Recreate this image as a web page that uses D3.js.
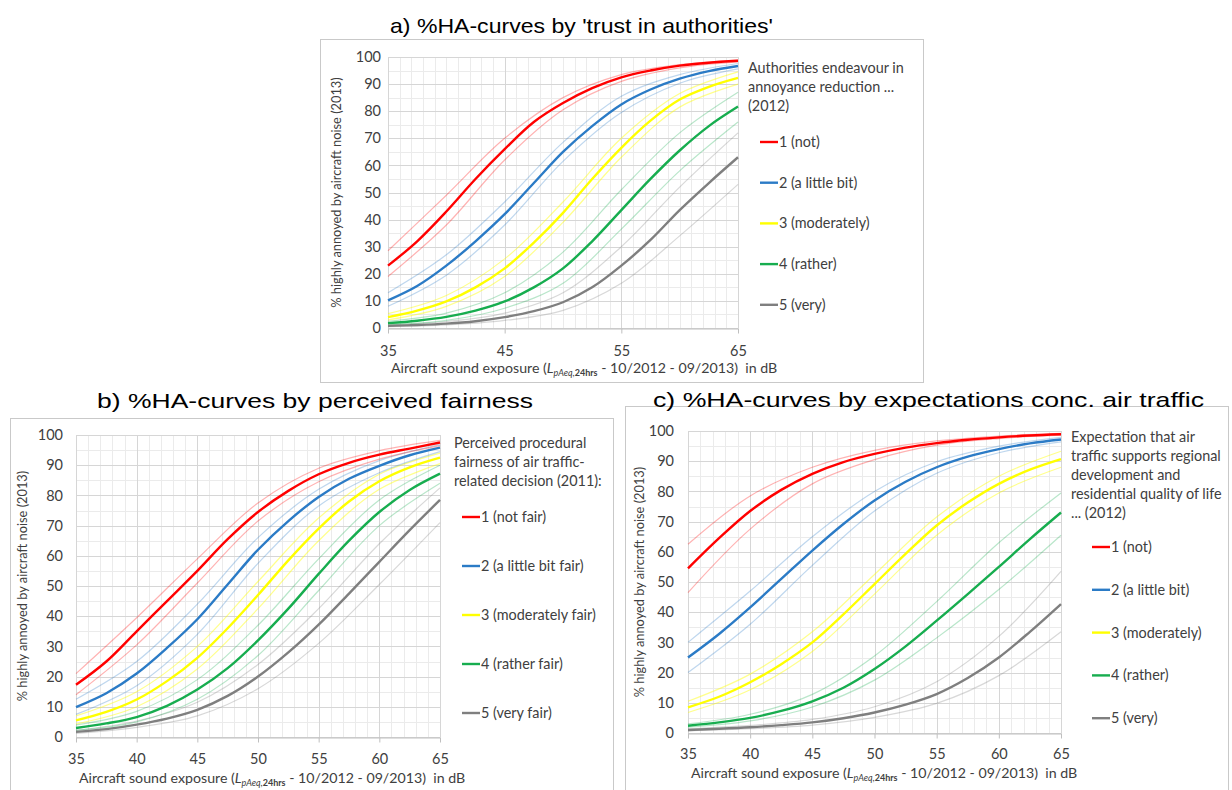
<!DOCTYPE html>
<html>
<head>
<meta charset="utf-8">
<script src="https://cdn.jsdelivr.net/npm/d3@7"></script>
<style>
  body { margin: 0; background: #fff; }
  text { font-family: Lato, "Noto Sans", sans-serif; }
</style>
</head>
<body>
<svg id="chart" width="1232" height="790"></svg>
<script>
// x positions (dB) of the read-off values
const dbMain = [35, 37.5, 40, 42.5, 45, 47.5, 50, 52.5, 55, 57.5, 60, 62.5, 65];
const dbBand = [35, 40, 45, 50, 55, 60, 65];
const yTicks = [0, 10, 20, 30, 40, 50, 60, 70, 80, 90, 100];
const aXTicks = [35, 45, 55, 65];
const bcXTicks = [35, 40, 45, 50, 55, 60, 65];

// a) trust in authorities
const aTitle = "a) %HA-curves by 'trust in authorities'";
const aLegendTitle = ['Authorities endeavour in', 'annoyance reduction ...', '(2012)'];
const aLabels = ['1 (not)', '2 (a little bit)', '3 (moderately)', '4 (rather)', '5 (very)'];
const aMain = [
  [23, 32, 43, 55, 66, 76, 83, 88.5, 92.5, 95, 96.8, 97.9, 98.6],
  [10.2, 15.5, 23, 32, 42, 53.5, 65, 74.5, 82.5, 88, 92, 94.8, 96.7],
  [4, 6.4, 9.8, 15, 22, 31.5, 42.5, 55, 66.5, 76.5, 84.3, 89, 92.3],
  [1.8, 2.7, 4.1, 6.4, 9.8, 15, 22, 32, 43.5, 55, 65.5, 74.5, 81.7],
  [0.8, 1.1, 1.6, 2.5, 4, 6.2, 9.5, 15, 23, 32.5, 43.5, 53.5, 63]
];
const aHi = [
  [28.5, 49, 70, 85, 93.5, 97.2, 98.9],
  [13, 27, 46.5, 68.5, 85.5, 93.5, 97.6],
  [5.3, 12, 25.5, 46.5, 70, 86.5, 94.5],
  [2.5, 5.5, 13, 28, 51, 72, 87],
  [1.2, 2.4, 5.5, 13, 30, 52, 72]
];
const aLo = [
  [19, 38, 62, 80.5, 91, 96, 98.2],
  [8, 19.5, 38, 61.5, 79.5, 90.3, 95.6],
  [3, 8, 19, 39, 63, 81.5, 90],
  [1.2, 2.8, 7.3, 16.5, 36.5, 58, 76],
  [0.5, 1.1, 2.8, 6.5, 16.5, 34, 53]
];

// b) perceived fairness
const bTitle = 'b) %HA-curves by perceived fairness';
const bLegendTitle = ['Perceived procedural', 'fairness of air traffic-', 'related decision (2011):'];
const bLabels = ['1 (not fair)', '2 (a little bit fair)', '3 (moderately fair)', '4 (rather fair)', '5 (very fair)'];
const bMain = [
  [17.3, 25, 35, 45, 55, 65.5, 74.5, 81.5, 87, 90.8, 93.5, 95.5, 97.5],
  [9.9, 14.5, 21, 29.5, 39, 50.5, 62, 71.5, 79.5, 85.5, 89.8, 93.3, 95.8],
  [5.5, 8.3, 12.4, 18.5, 26.2, 36, 47, 58.5, 69, 78, 84.7, 89.3, 92.5],
  [3, 4.5, 6.6, 10.3, 15.7, 22.8, 32, 42.5, 54, 65, 74.5, 81.8, 87.2],
  [1.7, 2.6, 4.1, 6.1, 9, 13.6, 20, 28, 37.2, 47.5, 58, 68.5, 78.5]
];
const bHi = [
  [21, 39.5, 59, 77.5, 89, 94.8, 98.2],
  [12.5, 25, 44, 66, 82, 91.5, 96.8],
  [7, 15, 30, 51.5, 72.5, 87, 94],
  [4, 8.5, 19, 37, 59, 78.5, 90],
  [2.2, 5.3, 11.5, 24, 42.5, 64, 82.5]
];
const bLo = [
  [14, 30.5, 51, 71.5, 84.5, 92, 96.5],
  [7.5, 17, 34, 57.5, 76.5, 87.5, 94.5],
  [4.3, 10, 22.5, 42.5, 65, 82, 90.5],
  [2.2, 5, 12.5, 27, 48.5, 70, 84],
  [1.2, 3.2, 7, 16, 31, 50.5, 71]
];

// c) expectations conc. air traffic
const cTitle = 'c) %HA-curves by expectations conc. air traffic';
const cLegendTitle = ['Expectation that air', 'traffic supports regional', 'development and', 'residential quality of life', '... (2012)'];
const cLabels = ['1 (not)', '2 (a little bit)', '3 (moderately)', '4 (rather)', '5 (very)'];
const cMain = [
  [54.5, 64.5, 73.5, 80.5, 85.8, 89.7, 92.4, 94.5, 96, 97.1, 97.9, 98.5, 98.9],
  [25, 32.8, 41.6, 51, 60.4, 69.2, 77, 83.2, 88, 91.5, 94, 95.9, 97.2],
  [8.5, 12, 16.8, 22.8, 30, 39.3, 49.3, 59.3, 68.7, 76.3, 82.5, 87.2, 90.7],
  [2.4, 3.5, 5, 7.3, 10.5, 15, 21.2, 28.7, 37.2, 46, 55, 64.2, 73],
  [1, 1.4, 1.9, 2.6, 3.5, 4.9, 6.8, 9.4, 12.9, 18.2, 25, 33.5, 42.7]
];
const cHi = [
  [62.5, 78.5, 88, 93.6, 96.7, 98.3, 99.2],
  [30, 47, 65, 80, 89.8, 95, 97.9],
  [10.5, 19.5, 33.5, 52.5, 71.5, 85, 93.3],
  [3, 6.2, 12.8, 25.5, 43.5, 63, 79.5],
  [1.4, 2.5, 4.5, 8.7, 17, 32, 53.5]
];
const cLo = [
  [46.5, 67.5, 82.5, 90.5, 95.3, 97.5, 98.6],
  [20, 36, 55.5, 73.5, 86, 92.8, 96.4],
  [6.8, 14.3, 27, 46, 65.5, 79.5, 88],
  [1.9, 4, 8.6, 17.5, 31.5, 47.5, 65.5],
  [0.7, 1.4, 2.6, 5.2, 9.8, 19, 33.5]
];

const colors = ['#ff0000', '#2b7bc6', '#ffff00', '#17ad4f', '#7f7f7f'];
const textColor = '#404040';

const svg = d3.select('#chart');

function drawPanel(o) {
  const [bx0, by0, bx1, by1] = o.box;
  svg.append('rect')
      .attr('x', bx0 + 0.5).attr('y', by0 + 0.5)
      .attr('width', bx1 - bx0).attr('height', by1 - by0)
      .attr('fill', '#fff').attr('stroke', '#c9c9c9');

  // Title (stretched to the reference width).
  svg.append('text')
      .attr('x', o.titleX).attr('y', o.titleY)
      .attr('text-anchor', 'middle')
      .style('font-family', '"Liberation Sans", Arial, sans-serif')
      .attr('font-size', 21).attr('fill', '#000')
      .attr('textLength', o.titleW).attr('lengthAdjust', 'spacingAndGlyphs')
      .text(o.title);

  const x = d3.scaleLinear().domain([35, 65]).range([o.plot.l, o.plot.r]);
  const y = d3.scaleLinear().domain([0, 100]).range([o.plot.b, o.plot.t]);
  const g = svg.append('g');

  // Gridlines: minor every 1 dB / 5 %, major at labelled ticks.
  g.append('g').selectAll('line').data(d3.range(35, 66, 1)).join('line')
      .attr('x1', d => Math.round(x(d)) + 0.5).attr('x2', d => Math.round(x(d)) + 0.5)
      .attr('y1', o.plot.t).attr('y2', o.plot.b)
      .attr('stroke', '#ebebeb');
  g.append('g').selectAll('line').data(d3.range(0, 101, 5)).join('line')
      .attr('x1', o.plot.l).attr('x2', o.plot.r)
      .attr('y1', d => Math.round(y(d)) + 0.5).attr('y2', d => Math.round(y(d)) + 0.5)
      .attr('stroke', '#ebebeb');
  g.append('g').selectAll('line').data(o.xTicks).join('line')
      .attr('x1', d => Math.round(x(d)) + 0.5).attr('x2', d => Math.round(x(d)) + 0.5)
      .attr('y1', o.plot.t).attr('y2', o.plot.b)
      .attr('stroke', '#d6d6d6');
  g.append('g').selectAll('line').data(yTicks).join('line')
      .attr('x1', o.plot.l).attr('x2', o.plot.r)
      .attr('y1', d => Math.round(y(d)) + 0.5).attr('y2', d => Math.round(y(d)) + 0.5)
      .attr('stroke', '#d6d6d6');

  // Axes.
  g.append('g')
      .attr('transform', `translate(0, ${Math.round(o.plot.b) + 0.5})`)
      .call(d3.axisBottom(x).tickValues(o.xTicks).tickSize(5).tickPadding(o.xPad).tickSizeOuter(0))
      .call(a => {
        a.select('.domain').attr('stroke', '#bfbfbf');
        a.selectAll('.tick line').attr('stroke', '#bfbfbf');
        a.selectAll('text').attr('font-size', 14.5).attr('fill', textColor)
            .style('font-family', 'Lato, sans-serif');
      });
  g.append('g')
      .attr('transform', `translate(${o.plot.l}, 0)`)
      .call(d3.axisLeft(y).tickValues(yTicks).tickSize(0).tickPadding(o.yPad))
      .call(a => {
        a.select('.domain').remove();
        a.selectAll('text').attr('font-size', 14.5).attr('fill', textColor)
            .style('font-family', 'Lato, sans-serif');
      });

  // Axis titles.
  const cy = (o.plot.t + o.plot.b) / 2;
  g.append('text')
      .attr('transform', `translate(${o.yLabelX}, ${cy}) rotate(-90)`)
      .attr('text-anchor', 'middle').attr('dy', '0.35em')
      .attr('font-size', 12.8).attr('fill', textColor)
      .text('% highly annoyed by aircraft noise (2013)');

  const xl = g.append('text')
      .attr('x', o.plot.l + 3).attr('y', o.xLabelY)
      .attr('font-size', 14.2).attr('fill', textColor);
  xl.append('tspan').text('Aircraft sound exposure (');
  xl.append('tspan').attr('font-style', 'italic').text('L');
  xl.append('tspan').attr('font-size', 9).attr('font-style', 'italic').attr('dy', 3).text('pAeq,');
  xl.append('tspan').attr('font-size', 9).attr('font-weight', 'bold').text('24hrs');
  xl.append('tspan').attr('dy', -3).text(' - 10/2012 - 09/2013)\u00a0\u00a0in dB');

  // Curves: confidence bounds first, then the estimates on top.
  const line = d3.line()
      .x(d => x(d[0]))
      .y(d => y(d[1]))
      .curve(d3.curveCatmullRom.alpha(0.5));

  const order = [4, 3, 2, 1, 0];
  order.forEach(i => {
    [o.hi[i], o.lo[i]].forEach(vals => {
      g.append('path')
          .datum(dbBand.map((d, j) => [d, vals[j]]))
          .attr('d', line)
          .attr('fill', 'none')
          .attr('stroke', colors[i])
          .attr('stroke-opacity', i === 2 ? 0.45 : 0.3)
          .attr('stroke-width', 1.2);
    });
  });
  order.forEach(i => {
    g.append('path')
        .datum(dbMain.map((d, j) => [d, o.main[i][j]]))
        .attr('d', line)
        .attr('fill', 'none')
        .attr('stroke', colors[i])
        .attr('stroke-width', 2.4);
  });

  // Legend.
  const lg = svg.append('g');
  o.legendTitle.forEach((t, k) => {
    lg.append('text')
        .attr('x', o.legend.x).attr('y', o.legend.titleY + k * 19)
        .attr('dy', '0.35em')
        .attr('font-size', 14.4).attr('fill', textColor)
        .text(t);
  });
  o.labels.forEach((t, k) => {
    const yy = o.legend.itemY + k * o.legend.step;
    lg.append('line')
        .attr('x1', o.legend.sx).attr('x2', o.legend.sx + 18)
        .attr('y1', yy).attr('y2', yy)
        .attr('stroke', colors[k]).attr('stroke-width', 2.4);
    lg.append('text')
        .attr('x', o.legend.sx + 19).attr('y', yy)
        .attr('dy', '0.35em')
        .attr('font-size', 14.4).attr('fill', textColor)
        .text(t);
  });
}

drawPanel({
  box: [320, 39, 923, 382],
  title: aTitle, titleX: 581.5, titleY: 33, titleW: 383,
  plot: {l: 388, r: 738, t: 57, b: 328},
  xTicks: aXTicks, xPad: 12, yPad: 7,
  yLabelX: 337, xLabelY: 373,
  main: aMain, hi: aHi, lo: aLo,
  legendTitle: aLegendTitle, labels: aLabels,
  legend: {x: 748, titleY: 68, sx: 760, itemY: 142, step: 40.7}
});

drawPanel({
  box: [10, 418, 613, 800],
  title: bTitle, titleX: 315, titleY: 408, titleW: 436,
  plot: {l: 76, r: 440, t: 435, b: 737},
  xTicks: bcXTicks, xPad: 11, yPad: 13,
  yLabelX: 23, xLabelY: 783,
  main: bMain, hi: bHi, lo: bLo,
  legendTitle: bLegendTitle, labels: bLabels,
  legend: {x: 454, titleY: 443, sx: 462, itemY: 517, step: 49}
});

drawPanel({
  box: [625, 406, 1228, 800],
  title: cTitle, titleX: 928.5, titleY: 407, titleW: 551,
  plot: {l: 688, r: 1061, t: 431, b: 733},
  xTicks: bcXTicks, xPad: 10, yPad: 14,
  yLabelX: 640, xLabelY: 778,
  main: cMain, hi: cHi, lo: cLo,
  legendTitle: cLegendTitle, labels: cLabels,
  legend: {x: 1071, titleY: 437, sx: 1092, itemY: 547, step: 42.8}
});
</script>
</body>
</html>
